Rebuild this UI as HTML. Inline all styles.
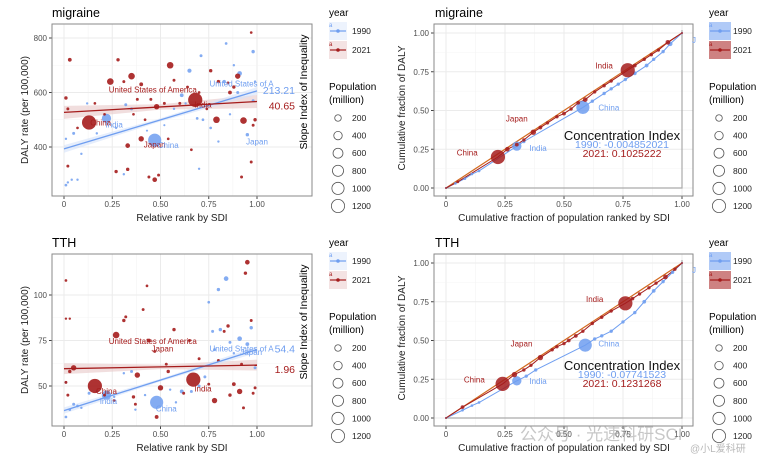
<!DOCTYPE html>
<html><head><meta charset="utf-8">
<style>
body{margin:0;background:#fff;width:777px;height:462px;overflow:hidden;font-family:"Liberation Sans","Noto Sans CJK SC",sans-serif;}
svg{display:block}
text{font-family:"Liberation Sans","Noto Sans CJK SC",sans-serif}
</style></head>
<body>
<svg id="chart" width="777" height="462" viewBox="0 0 777 462"></svg>
<script>
// ---- Data: migraine SII (rank, DALY rate, population) ----
const migRed_x=[0.13,0.68,0.24,0.35,0.55,0.48,0.40,0.79,0.93,0.90,0.33,0.47,0.03,0.01,0.02,0.28,0.27,0.33,0.44,0.49,0.40,0.45,0.52,0.57,0.60,0.64,0.76,0.80,0.86,0.85,0.97,0.97,0.92,0.02,0.99,0.98,0.16,0.31,0.38,0.42,0.70,0.74,0.88,0.21,0.07,0.36,0.54,0.66];
const migRed_y=[490,573,640,660,700,548,430,500,497,660,405,280,720,580,540,720,310,318,290,297,630,575,560,645,560,620,680,640,600,635,820,345,290,330,500,480,560,640,575,500,600,540,620,520,470,520,430,390];
const migRed_p=[1400,1400,300,300,300,200,200,300,300,200,150,150,100,80,60,80,80,80,60,60,100,60,60,60,60,60,80,80,100,60,50,60,60,60,80,60,50,60,60,50,50,50,80,50,50,50,50,50];
const migBlue_x=[0.47,0.22,0.91,0.65,0.61,0.98,0.95,0.83,0.71,0.84,0.01,0.02,0.04,0.07,0.09,0.01,0.05,0.12,0.17,0.31,0.35,0.32,0.72,0.69,0.76,0.80,0.86,0.90,0.98,0.57,0.52,0.43,0.27,0.70,0.63,0.88,0.99];
const migBlue_y=[425,505,670,680,590,750,445,640,735,780,260,270,280,280,375,430,450,560,450,300,540,555,500,505,470,420,520,600,570,540,480,460,470,320,560,700,640];
const migBlue_p=[1200,600,150,120,100,80,80,80,60,50,50,40,40,40,40,40,60,40,40,40,60,60,50,50,50,40,40,60,60,40,30,30,40,40,40,40,40];
const migFitBlue=[393,606], migFitRed=[527,567];
const migSII=["213.21","40.65"];
// ---- Data: TTH SII ----
const tthRed_x=[0.16,0.67,0.27,0.05,0.38,0.50,0.78,0.91,0.95,0.94,0.48,0.44,0.31,0.41,0.43,0.01,0.01,0.03,0.57,0.54,0.85,0.83,0.88,0.86,0.93,0.98,0.99,0.97,0.65,0.70,0.36,0.37,0.26,0.21,0.02,0.01,0.03,0.32,0.47,0.53,0.62,0.75,0.80,0.92];
const tthRed_y=[50,53.5,78,60,56,49,42,47,118,112,33,75,86,92,105,108,87,87,81,58,83,80,51,45,38,46,49,86,75,65,44,40,42,45,45,52,58,88,69,62,46,51,64,62];
const tthRed_p=[1400,1400,300,200,200,200,200,200,150,80,100,100,80,60,50,50,40,40,80,80,80,60,100,80,60,60,60,60,60,60,80,60,60,60,60,60,80,60,60,60,60,60,60,60];
const tthBlue_x=[0.48,0.22,0.84,0.80,0.91,0.95,0.97,0.61,0.81,0.77,0.75,0.01,0.03,0.05,0.07,0.09,0.13,0.17,0.35,0.31,0.66,0.70,0.73,0.78,0.86,0.99,0.26,0.42,0.55,0.58,0.88,0.01,0.37];
const tthBlue_y=[41,45,109,103,76,73,82,47,81,80,96,33,37,40,39,38,46,47,58,57,47,50,55,70,74,60,44,45,48,41,68,52,37];
const tthBlue_p=[1200,600,150,80,150,100,80,100,80,60,50,50,50,60,50,40,60,40,60,40,60,60,60,60,60,60,40,40,40,40,40,40,40];
const tthFitBlue=[36.5,70], tthFitRed=[59.5,61.5];
const tthSII=["54.4","1.96"];
// ---- Data: concentration curves ----
const ciMigRed_x=[0,0.05,0.22,0.26,0.30,0.33,0.37,0.40,0.43,0.47,0.50,0.53,0.56,0.59,0.63,0.67,0.70,0.77,0.80,0.84,0.87,0.90,0.94,1];
const ciMigRed_y=[0,0.04,0.20,0.25,0.28,0.31,0.36,0.39,0.42,0.46,0.48,0.51,0.55,0.57,0.62,0.66,0.69,0.76,0.79,0.83,0.86,0.89,0.94,1];
const ciMigRed_p=[20,60,1400,150,100,80,200,100,80,80,100,80,100,150,80,80,80,1400,100,80,80,80,150,20];
const ciMigBlue_x=[0,0.04,0.08,0.11,0.14,0.30,0.33,0.58,0.62,0.67,0.70,0.73,0.76,0.80,0.85,0.88,0.92,0.95,1];
const ciMigBlue_y=[0,0.03,0.06,0.09,0.11,0.27,0.30,0.52,0.56,0.61,0.64,0.67,0.70,0.74,0.79,0.83,0.88,0.93,1];
const ciMigBlue_p=[20,50,50,50,50,600,80,1200,80,80,80,80,80,100,100,80,80,150,20];
const ciMigText=["1990: -0.004852021","2021: 0.1025222"];
const ciTthRed_x=[0,0.07,0.24,0.29,0.33,0.36,0.40,0.45,0.47,0.50,0.52,0.55,0.58,0.62,0.66,0.70,0.76,0.79,0.82,0.86,0.89,0.93,0.97,1];
const ciTthRed_y=[0,0.07,0.22,0.28,0.31,0.34,0.39,0.44,0.46,0.48,0.50,0.53,0.56,0.61,0.65,0.69,0.74,0.77,0.80,0.84,0.87,0.91,0.96,1];
const ciTthRed_p=[20,100,1400,200,80,80,200,80,80,80,100,100,80,80,80,80,1400,100,80,80,80,150,80,20];
const ciTthBlue_x=[0,0.07,0.11,0.14,0.30,0.34,0.38,0.59,0.63,0.66,0.70,0.75,0.80,0.84,0.88,0.92,0.96,1];
const ciTthBlue_y=[0,0.05,0.08,0.10,0.24,0.27,0.31,0.47,0.51,0.53,0.56,0.62,0.68,0.75,0.82,0.88,0.94,1];
const ciTthBlue_p=[20,50,50,50,600,80,80,1200,80,80,80,80,80,100,100,80,80,20];
const ciTthText=["1990: -0.07741523","2021: 0.1231268"];
const popLegend=[200,400,600,800,1000,1200];

const NS="http://www.w3.org/2000/svg";
const svg=document.getElementById('chart');
const BLUE="#6f9ef0", RED="#a51c1c";
function el(tag,attrs,parent,txt){const e=document.createElementNS(NS,tag);for(const k in attrs)e.setAttribute(k,attrs[k]);if(txt!==undefined)e.textContent=txt;(parent||svg).appendChild(e);return e;}
function rad(p){return Math.max(1,0.19*Math.sqrt(p));}

function panelFrame(g,box,xs,ys,xt,yt,yfmt){
  el('rect',{x:box[0],y:box[1],width:box[2]-box[0],height:box[3]-box[1],fill:'#fff'},g);
  const grid=el('g',{},g);
  
  for(let i=0;i<xt.length;i++){el('line',{x1:xs(xt[i]),x2:xs(xt[i]),y1:box[1],y2:box[3],stroke:'#ebebeb','stroke-width':1},grid);
    if(i<xt.length-1){const m=(xt[i]+xt[i+1])/2;el('line',{x1:xs(m),x2:xs(m),y1:box[1],y2:box[3],stroke:'#f4f4f4','stroke-width':0.6},grid);}}
  for(let i=0;i<yt.length;i++){el('line',{y1:ys(yt[i]),y2:ys(yt[i]),x1:box[0],x2:box[2],stroke:'#ebebeb','stroke-width':1},grid);
    if(i<yt.length-1){const m=(yt[i]+yt[i+1])/2;el('line',{y1:ys(m),y2:ys(m),x1:box[0],x2:box[2],stroke:'#f4f4f4','stroke-width':0.6},grid);}}
  const xa=el('g',{},g);
  xt.forEach(t=>{el('line',{x1:xs(t),x2:xs(t),y1:box[3],y2:box[3]+3,stroke:'#444'},xa);
    el('text',{x:xs(t),y:box[3]+11,'font-size':8,fill:'#4d4d4d','text-anchor':'middle'},xa,t===0?'0':t.toFixed(2));});
  const ya=el('g',{},g);
  yt.forEach(t=>{el('line',{x1:box[0]-3,x2:box[0],y1:ys(t),y2:ys(t),stroke:'#444'},ya);
    el('text',{x:box[0]-5,y:ys(t)+3,'font-size':8,fill:'#4d4d4d','text-anchor':'end'},ya,yfmt(t));});
}
function border(g,box){el('rect',{x:box[0],y:box[1],width:box[2]-box[0],height:box[3]-box[1],fill:'none',stroke:'#8a8a8a','stroke-width':1},g);}

function scatterPanel(oy,title,xR,yR,pR,xB,yB,pB,fitB,fitR,sii,yTicks,ymap,labels){
  const g=el('g',{});
  const box=[52,24+oy,312,196+oy];
  const xs=v=>64+v*193;
  panelFrame(g,box,xs,ymap,[0,0.25,0.5,0.75,1],yTicks,t=>String(t));
  const clip=el('clipPath',{id:'c'+oy},g);el('rect',{x:box[0],y:box[1],width:box[2]-box[0],height:box[3]-box[1]},clip);
  const pg=el('g',{'clip-path':'url(#c'+oy+')'},g);
  const st=yTicks[1]-yTicks[0];
  const bR=el('polygon',{points:[[0,fitR[0]+st*0.12],[0.5,(fitR[0]+fitR[1])/2+st*0.05],[1,fitR[1]+st*0.12],[1,fitR[1]-st*0.12],[0.5,(fitR[0]+fitR[1])/2-st*0.05],[0,fitR[0]-st*0.12]].map(p=>xs(p[0])+','+ymap(p[1])).join(' '),fill:'#e8c8c8',opacity:0.6},pg);
  
  const bB=el('polygon',{points:[[0,fitB[0]+st*0.07],[0.5,(fitB[0]+fitB[1])/2+st*0.03],[1,fitB[1]+st*0.07],[1,fitB[1]-st*0.07],[0.5,(fitB[0]+fitB[1])/2-st*0.03],[0,fitB[0]-st*0.07]].map(p=>xs(p[0])+','+ymap(p[1])).join(' '),fill:'#d6e2fa',opacity:0.6},pg);
  
  for(let i=0;i<xB.length;i++){const c=el('circle',{cx:xs(xB[i]),cy:ymap(yB[i]),r:rad(pB[i]),fill:BLUE,opacity:0.85},pg);
    }
  for(let i=0;i<xR.length;i++){const c=el('circle',{cx:xs(xR[i]),cy:ymap(yR[i]),r:rad(pR[i]),fill:RED,opacity:0.9},pg);
    }
  const lB=el('line',{x1:xs(0),y1:ymap(fitB[0]),x2:xs(1),y2:ymap(fitB[1]),stroke:BLUE,'stroke-width':1.3},pg);
  
  const lR=el('line',{x1:xs(0),y1:ymap(fitR[0]),x2:xs(1),y2:ymap(fitR[1]),stroke:RED,'stroke-width':1.3},pg);
  
  labels.forEach(l=>{const t=el('text',{x:xs(l[1]),y:ymap(l[2]),'font-size':8,fill:l[3],'text-anchor':l[4]||'middle'},pg,l[0]);
    });
  const s1=el('text',{x:295,y:ymap(fitB[1])+3,'font-size':10.5,fill:BLUE,'text-anchor':'end'},pg,sii[0]);
  
  const s2=el('text',{x:295,y:ymap(fitR[1])+8,'font-size':10.5,fill:RED,'text-anchor':'end'},pg,sii[1]);
  
  const stt=el('text',{transform:`translate(307,${oy+92}) rotate(-90)`,'font-size':10.5,fill:'#000','text-anchor':'middle'},g,'Slope Index of Inequality');
  
  border(g,box);
  const tt=el('text',{x:52,y:oy+17,'font-size':12.5,fill:'#000'},g,title);
  const xl=el('text',{x:182,y:oy+221,'font-size':10,fill:'#222','text-anchor':'middle'},g,'Relative rank by SDI');
  const yl=el('text',{transform:`translate(28,${oy+110}) rotate(-90)`,'font-size':10,fill:'#222','text-anchor':'middle'},g,'DALY rate (per 100,000)');
  legend(329,oy,false);
}

function ciPanel(oy,title,xR,yR,pR,xB,yB,pB,ciText,labels){
  const g=el('g',{});
  const box=[434,24+oy,693,196+oy];
  const xs=v=>446+v*236, ys=v=>188+oy-v*155;
  panelFrame(g,box,xs,ys,[0,0.25,0.5,0.75,1],[0,0.25,0.5,0.75,1],t=>t===0?'0.00':t.toFixed(2));
  el('polyline',{points:`${xs(1)},${ys(1)-3} ${xs(1)},${ys(0)} ${xs(0)},${ys(0)}`,fill:'none',stroke:'#aaa','stroke-width':1.2},g);
  const d=el('line',{x1:xs(0),y1:ys(0),x2:xs(1),y2:ys(1),stroke:'#d2691e','stroke-width':1.2},g);
  
  const pl=(xa,ya,c,n)=>{const p=el('polyline',{points:xa.map((x,i)=>xs(x)+','+ys(ya[i])).join(' '),fill:'none',stroke:c,'stroke-width':1},g);
    };
  pl(xB,yB,BLUE,'curve-1990');pl(xR,yR,RED,'curve-2021');
  for(let i=0;i<xB.length;i++){const c=el('circle',{cx:xs(xB[i]),cy:ys(yB[i]),r:rad(pB[i]),fill:BLUE,opacity:0.85},g);
    }
  for(let i=0;i<xR.length;i++){const c=el('circle',{cx:xs(xR[i]),cy:ys(yR[i]),r:rad(pR[i]),fill:RED,opacity:0.85},g);
    }
  labels.forEach(l=>{const t=el('text',{x:xs(l[1]),y:ys(l[2]),'font-size':8,fill:l[3],'text-anchor':'middle'},g,l[0]);
    });
  const c0=el('text',{x:622,y:oy+140,'font-size':13,fill:'#111','text-anchor':'middle'},g,'Concentration Index');
  const c1=el('text',{x:622,y:oy+148,'font-size':10.5,fill:BLUE,'text-anchor':'middle'},g,ciText[0]);
  const c2=el('text',{x:622,y:oy+157,'font-size':10.5,fill:RED,'text-anchor':'middle'},g,ciText[1]);
  border(g,box);
  const tt=el('text',{x:435,y:oy+17,'font-size':12.5,fill:'#000'},g,title);
  const xl=el('text',{x:564,y:oy+221,'font-size':10,fill:'#222','text-anchor':'middle'},g,'Cumulative fraction of population ranked by SDI');
  const yl=el('text',{transform:`translate(405,${oy+108}) rotate(-90)`,'font-size':10,fill:'#222','text-anchor':'middle'},g,'Cumulative fraction of DALY');
  el('text',{x:692,y:oy+43,'font-size':8,fill:BLUE},g,'J');
  legend(709,oy,true);
}

function legend(x,oy,filled){
  const g=el('g',{});
  el('text',{x:x,y:oy+16,'font-size':10,fill:'#000'},g,'year');
  [[BLUE,'1990',oy+22],[RED,'2021',oy+41]].forEach(k=>{
    const e=el('g',{},g);
    el('rect',{x:x,y:k[2],width:filled?22:18,height:18,fill:k[0],opacity:filled?0.55:0.12},e);
    el('line',{x1:x+1,x2:x+(filled?21:17),y1:k[2]+9,y2:k[2]+9,stroke:k[0],'stroke-width':1.2},e);
    el('circle',{cx:x+(filled?11:9),cy:k[2]+9,r:1.8,fill:k[0]},e);
    el('text',{x:x,y:k[2]+5,'font-size':6,fill:k[0]},e,'a');
    el('text',{x:x+(filled?24:23),y:k[2]+12,'font-size':8.5,fill:'#222'},e,k[1]);});
  el('text',{x:x,y:oy+90,'font-size':10,fill:'#000'},g,'Population');
  el('text',{x:x,y:oy+103,'font-size':10,fill:'#000'},g,'(million)');
  popLegend.forEach((p,i)=>{const cy=oy+118+i*17.6;
    const c=el('circle',{cx:x+(filled?10:9),cy:cy,r:rad(p)*0.85+1,fill:'none',stroke:'#555','stroke-width':0.8},g);
    
    el('text',{x:x+(filled?24:23),y:cy+3,'font-size':8.5,fill:'#222'},g,String(p));});
}

scatterPanel(0,'migraine',migRed_x,migRed_y,migRed_p,migBlue_x,migBlue_y,migBlue_p,migFitBlue,migFitRed,migSII,[400,600,800],v=>147-(v-400)*0.2725,
 [['United States of America',0.46,600,RED],['India',0.72,545,RED],['China',0.19,478,RED],['Japan',0.47,398,RED],['India',0.26,471,BLUE],['China',0.54,397,BLUE],['Japan',1.0,410,BLUE],['United States of A',0.92,622,BLUE,'middle']]);
ciPanel(0,'migraine',ciMigRed_x,ciMigRed_y,ciMigRed_p,ciMigBlue_x,ciMigBlue_y,ciMigBlue_p,ciMigText,
 [['India',0.67,0.77,RED],['Japan',0.30,0.43,RED],['China',0.09,0.21,RED],['China',0.69,0.50,BLUE],['India',0.39,0.24,BLUE]]);
scatterPanel(230,'TTH',tthRed_x,tthRed_y,tthRed_p,tthBlue_x,tthBlue_y,tthBlue_p,tthFitBlue,tthFitRed,tthSII,[50,75,100],v=>386-(v-50)*1.82,
 [['United States of America',0.46,73,RED],['Japan',0.51,69,RED],['China',0.22,45.5,RED],['India',0.72,47,RED],['India',0.23,40,BLUE],['China',0.53,36,BLUE],['United States of A',0.92,69,BLUE],['Japan',0.97,67,BLUE]]);
ciPanel(230,'TTH',ciTthRed_x,ciTthRed_y,ciTthRed_p,ciTthBlue_x,ciTthBlue_y,ciTthBlue_p,ciTthText,
 [['India',0.63,0.75,RED],['Japan',0.32,0.46,RED],['China',0.12,0.23,RED],['China',0.69,0.46,BLUE],['India',0.39,0.22,BLUE]]);
const wm=el('text',{x:520,y:440,'font-size':17,fill:'#9a9a9a',opacity:0.55},svg,'公众号 · 光速科研SCI');

const wm2=el('text',{x:690,y:452,'font-size':10,fill:'#9a9a9a',opacity:0.7},svg,'@小L爱科研');

</script>
</body></html>
